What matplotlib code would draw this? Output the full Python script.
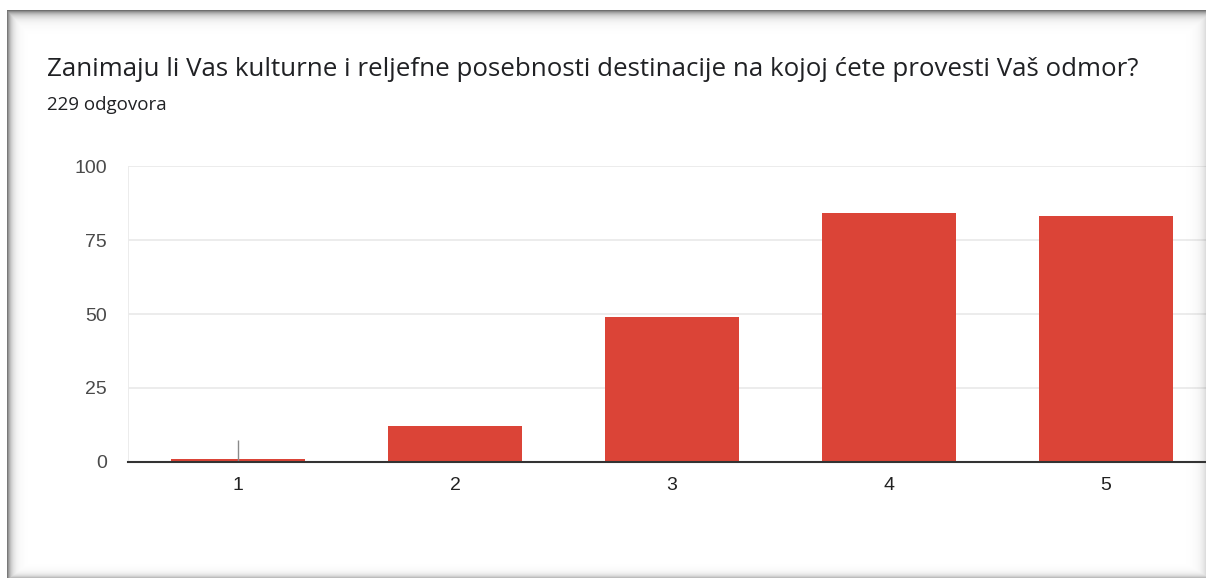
import numpy as np
import matplotlib
matplotlib.use("Agg")
import matplotlib.pyplot as plt

# ---- data ----
categories = ["1", "2", "3", "4", "5"]
counts = [1, 12, 49, 84, 83]
y_ticks = [0, 25, 50, 75, 100]
title = "Zanimaju li Vas kulturne i reljefne posebnosti destinacije na kojoj ćete provesti Vaš odmor?"
subtitle = "229 odgovora"
cursor_height = 7.5  # small gray marker seen on the first bar

W, H = 1206, 578
fig = plt.figure(figsize=(W / 100, H / 100), dpi=100)
fig.patch.set_facecolor("white")

# axes placement (pixels)
ax_left, ax_right, ax_top, ax_bottom = 128, 1206, 166, 462
ax = fig.add_axes([ax_left / W, 1 - ax_bottom / H, (ax_right - ax_left) / W, (ax_bottom - ax_top) / H])
x = np.arange(len(categories))
ax.bar(x, counts, width=0.62, color="#db4437", zorder=3)
ax.vlines(x[0], 0, cursor_height, color="#8a8a8a", linewidth=1, zorder=4)

spacing = 217.0
first_center = 238.0
ax.set_xlim(-(first_center - ax_left) / spacing, -(first_center - ax_left) / spacing + (ax_right - ax_left) / spacing)
ax.set_ylim(0, 100)
ax.set_yticks(y_ticks)
ax.set_yticklabels([str(t) for t in y_ticks])
ax.set_xticks(x)
ax.set_xticklabels(categories)
ax.yaxis.grid(True, color="#ebebeb", linewidth=1.3, zorder=0)
ax.set_axisbelow(True)
for s in ["top", "right", "left"]:
    ax.spines[s].set_visible(False)
ax.spines["bottom"].set_color("#333333")
ax.spines["bottom"].set_linewidth(1.5)
ax.spines["bottom"].set_zorder(5)
ax.tick_params(axis="y", length=0, pad=15, labelsize=14, labelcolor="#4a4a4a")
ax.tick_params(axis="x", length=0, pad=11, labelsize=14, labelcolor="#222222")
for lab in ax.get_xticklabels() + ax.get_yticklabels():
    lab.set_fontfamily("Liberation Sans")
# left vertical light line of the plot area
ax.axvline(ax.get_xlim()[0], color="#ebebeb", linewidth=1.3, zorder=0)

fig.text(47 / W, 1 - 76 / H, title, fontsize=18.6, color="#202124",
         family="Open Sans", va="baseline", ha="left")
fig.text(47 / W, 1 - 110 / H, subtitle, fontsize=13.5, color="#202124",
         family="Open Sans", va="baseline", ha="left")

# ---- card shadow frame overlay ----
yy, xx = np.mgrid[0:H, 0:W].astype(float)
top = np.where(yy >= 10, 0.75 * np.exp(-(yy - 10) / 4.5), 0)
left = np.where(xx >= 7, 0.7 * np.exp(-(xx - 7) / 4.0), 0)
right = 0.18 * np.exp(-(W - 1 - xx) / 5.0)
bottom = 0.35 * np.exp(-(H - 1 - yy) / 3.0)
shade = np.maximum.reduce([top, left, right, bottom])
shade[yy < 10] = 0
shade[xx < 7] = 0
rgba = np.zeros((H, W, 4))
rgba[..., 0] = 0.25
rgba[..., 1] = 0.25
rgba[..., 2] = 0.25
rgba[..., 3] = np.clip(shade, 0, 1)
ov = fig.add_axes([0, 0, 1, 1], zorder=10)
ov.imshow(rgba, aspect="auto", interpolation="nearest")
ov.axis("off")

fig.savefig("out.png", dpi=100, facecolor="white")
